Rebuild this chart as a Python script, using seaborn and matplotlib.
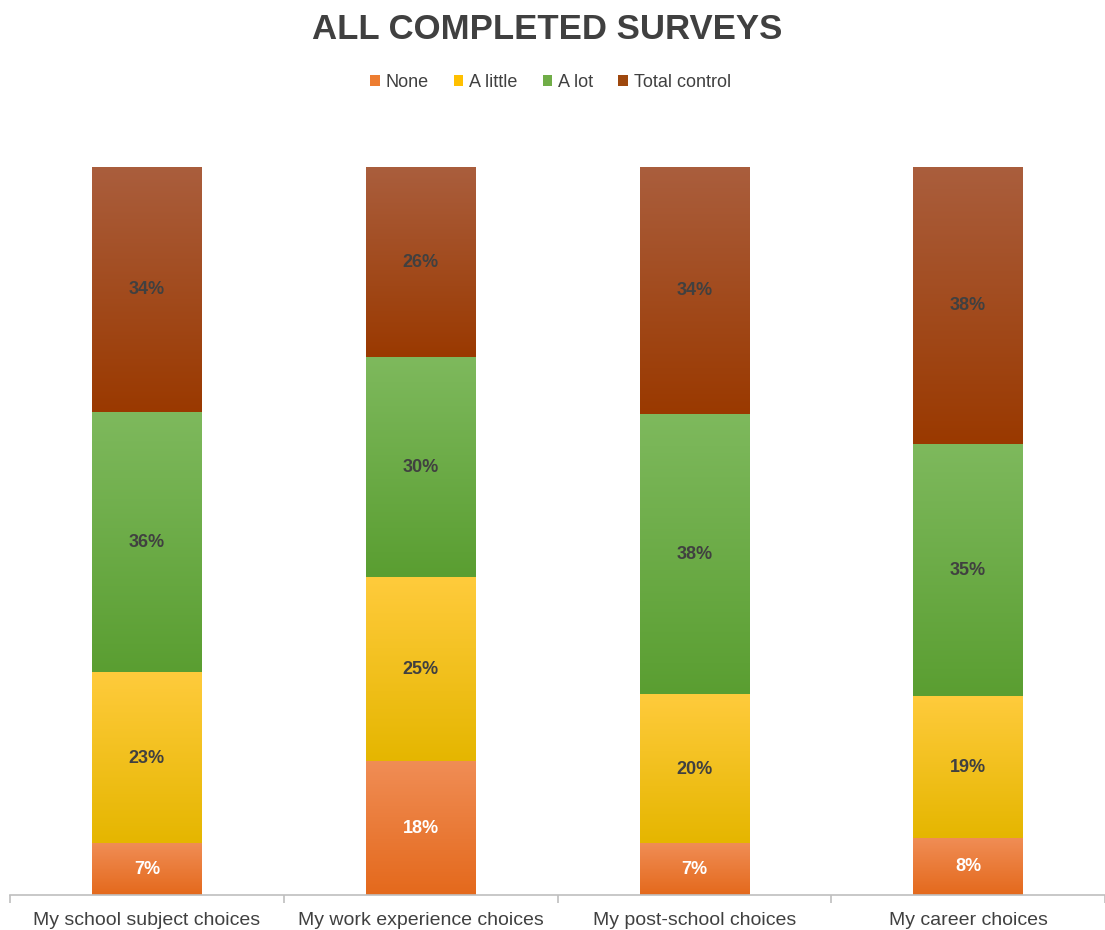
import numpy as np
import pandas as pd
import seaborn as sns
import matplotlib.pyplot as plt
import matplotlib.colors as mcolors
from matplotlib.patches import Patch

sns.set_theme(style="white")
plt.rcParams['font.family'] = ['Liberation Sans', 'DejaVu Sans']

# data (percent of all completed surveys)
questions = ["My school subject choices", "My work experience choices",
             "My post-school choices", "My career choices"]
levels = ["None", "A little", "A lot", "Total control"]
none_vals = [7.1, 18.3, 7.1, 7.8]
little_vals = [23.4, 25.4, 20.4, 19.4]
alot_vals = [35.8, 30.1, 38.5, 34.7]
total_vals = [33.7, 26.2, 34.0, 38.1]

base_colors = ["#ED7D31", "#FFC000", "#70AD47", "#9E480E"]
grad_colors = [("#F08D55", "#E4691C"), ("#FFCB3C", "#E5B600"),
               ("#7EB95D", "#5A9E31"), ("#AA5E3D", "#9A3900")]
label_colors = ["white", "#404040", "#404040", "#404040"]

df = pd.DataFrame({"question": questions, "None": none_vals, "A little": little_vals,
                   "A lot": alot_vals, "Total control": total_vals})
cum = df[levels].cumsum(axis=1)

fig = plt.figure(figsize=(11.05, 9.3), dpi=100)
ax = fig.add_axes([10 / 1105, 35 / 930, 1095 / 1105, 728 / 930])

# stacked bars by overplotting cumulative totals, tallest first
for i in range(len(levels) - 1, -1, -1):
    sns.barplot(x=df["question"], y=cum[levels[i]], color=base_colors[i],
                width=0.4, saturation=1, ax=ax, edgecolor="none")

# gradient fill and labels per segment
patches = ax.patches
n = len(questions)
for k, i in enumerate(range(len(levels) - 1, -1, -1)):
    top_c, bot_c = grad_colors[i]
    cmap = mcolors.LinearSegmentedColormap.from_list("g", [bot_c, top_c])
    grad = np.linspace(0, 1, 256).reshape(-1, 1)
    for j in range(n):
        p = patches[k * n + j]
        top = cum[levels[i]][j]
        bottom = cum[levels[i - 1]][j] if i > 0 else 0
        x0 = p.get_x()
        w = p.get_width()
        ax.imshow(grad, cmap=cmap, origin="lower", aspect="auto",
                  extent=(x0, x0 + w, bottom, top), zorder=2 + k * 0.01,
                  interpolation="bilinear")
        val = df[levels[i]][j]
        ax.text(x0 + w / 2, (bottom + top) / 2, f"{val:.0f}%", ha="center", va="center",
                fontsize=13, fontweight="bold", color=label_colors[i], zorder=5)

ax.set_xlim(-0.5, n - 0.5)
ax.set_ylim(0, 100)

sns.despine(ax=ax, left=True)
ax.spines["bottom"].set_color("#BFBFBF")
ax.spines["bottom"].set_linewidth(1.2)
ax.set_yticks([])
ax.set_xlabel("")
ax.set_ylabel("")
ax.set_xticks(range(n))
ax.set_xticklabels(questions, fontsize=14, color="#404040")
ax.tick_params(axis="x", which="major", length=0, pad=12)
ax.set_xticks(np.arange(-0.5, n, 1.0), minor=True)
ax.tick_params(axis="x", which="minor", bottom=True, length=6, color="#BFBFBF",
               width=1.2, direction="out")

fig.text(0.495, 0.968, "ALL COMPLETED SURVEYS", ha="center", va="center",
         fontsize=25, fontweight="bold", color="#404040")

handles = [Patch(facecolor=c, edgecolor="none") for c in base_colors]
fig.legend(handles, levels, loc="center", bbox_to_anchor=(0.498, 0.911), ncol=4,
           frameon=False, fontsize=13, handlelength=0.55, handleheight=0.55,
           handletextpad=0.3, columnspacing=1.4, labelcolor="#404040")

fig.savefig("out.png", dpi=100, facecolor="white")
